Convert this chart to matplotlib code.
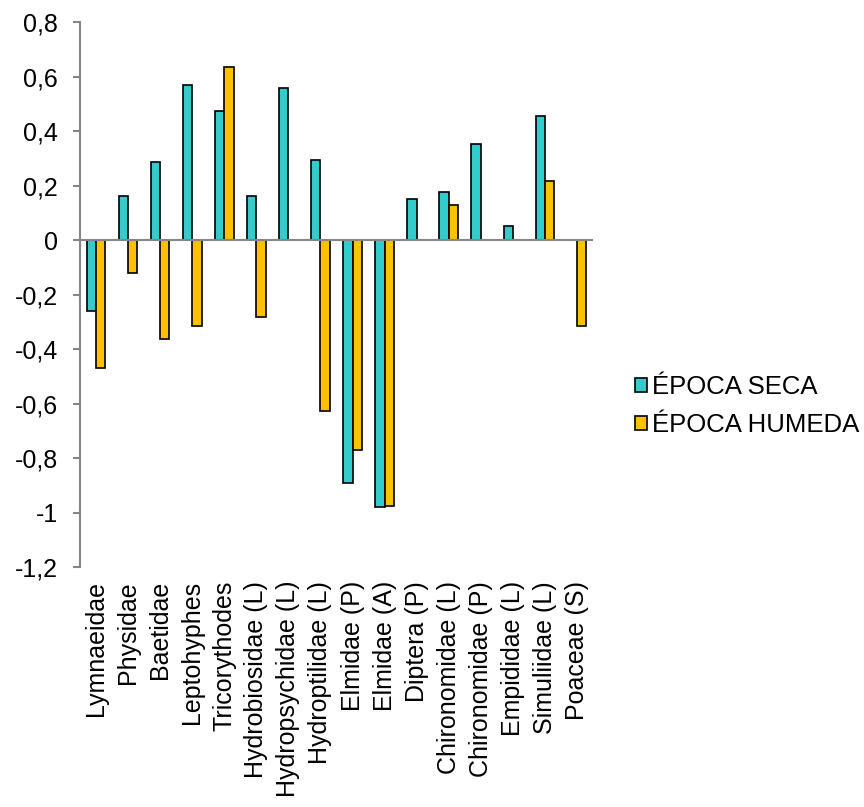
import matplotlib.pyplot as plt
import numpy as np
from matplotlib.ticker import FuncFormatter

plt.rcParams['font.family'] = ['Liberation Sans', 'DejaVu Sans']

# taxa and values per season
taxa = ['Lymnaeidae', 'Physidae', 'Baetidae', 'Leptohyphes', 'Tricorythodes',
        'Hydrobiosidae (L)', 'Hydropsychidae (L)', 'Hydroptilidae (L)',
        'Elmidae (P)', 'Elmidae (A)', 'Diptera (P)', 'Chironomidae (L)',
        'Chironomidae (P)', 'Empididae (L)', 'Simuliidae (L)', 'Poaceae (S)']
seca = [-0.26, 0.163, 0.285, 0.568, 0.474, 0.162, 0.557, 0.294,
        -0.89, -0.98, 0.151, 0.175, 0.353, 0.05, 0.454, 0.0]
humeda = [-0.468, -0.121, -0.365, -0.315, 0.635, -0.282, 0.0, -0.628,
          -0.772, -0.977, 0.0, 0.129, 0.0, 0.0, 0.218, -0.314]

fig = plt.figure(figsize=(8.64, 8.07), dpi=100)
ax = fig.add_axes([0.0926, 0.2974, 0.5937, 0.6753])

x = np.arange(len(taxa))
w = 0.29
gray = '#868686'

ax.bar(x - w / 2, seca, w, color='#33CCCC', edgecolor='black', linewidth=1.2,
       label='ÉPOCA SECA', zorder=3)
ax.bar(x + w / 2, humeda, w, color='#FFC000', edgecolor='black', linewidth=1.2,
       label='ÉPOCA HUMEDA', zorder=3)

ax.axhline(0, color=gray, linewidth=1.5, zorder=4)

ax.set_xlim(-0.5, len(taxa) - 0.5)
ax.set_ylim(-1.2, 0.8)
ax.set_yticks(np.arange(-1.2, 0.81, 0.2))
ax.yaxis.set_major_formatter(FuncFormatter(
    lambda v, p: '0' if abs(v) < 1e-9 else ('%g' % round(v, 1)).replace('.', ',')))

ax.set_xticks(x)
ax.set_xticklabels(taxa, rotation=90, fontsize=18)
ax.tick_params(axis='x', length=0, pad=10)
ax.tick_params(axis='y', labelsize=18, length=5, width=1.5, color=gray, pad=11)

for s in ['top', 'right', 'bottom']:
    ax.spines[s].set_visible(False)
ax.spines['left'].set_color(gray)
ax.spines['left'].set_linewidth(1.5)

fig.legend(loc='center left', bbox_to_anchor=(0.735, 0.497), frameon=False,
           fontsize=18.5, handlelength=0.45, handleheight=0.45, handletextpad=0.2,
           labelspacing=0.55, borderpad=0, borderaxespad=0)

fig.savefig('out.png', dpi=100)
